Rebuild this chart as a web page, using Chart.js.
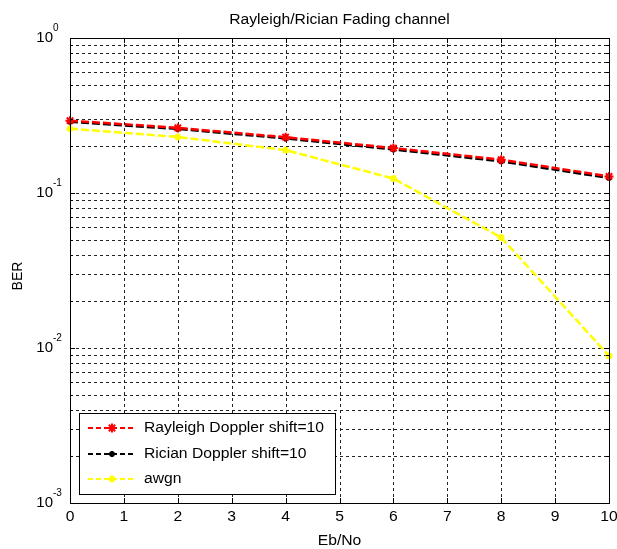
<!DOCTYPE html>
<html>
<head>
<meta charset="utf-8">
<script src="https://cdn.jsdelivr.net/npm/chart.js@4.4.1/dist/chart.umd.min.js"></script>
<style>
  html, body { margin: 0; padding: 0; background: #fff; }
  canvas { display: block; }
</style>
</head>
<body>
<canvas id="chart" width="617" height="549"></canvas>
<script>
// values
const ebNo = [0, 2, 4, 6, 8, 10];
const rayleigh = [0.293, 0.263, 0.229, 0.195, 0.164, 0.128];
const rician = [0.288, 0.259, 0.225, 0.191, 0.160, 0.125];
const awgn = [0.26, 0.23, 0.189, 0.124, 0.0516, 0.0089];

const xTickLabels = ["0", "1", "2", "3", "4", "5", "6", "7", "8", "9", "10"];
const yDecades = [1, 0.1, 0.01, 0.001];
const yExponents = ["0", "-1", "-2", "-3"];
const seriesNames = ["Rayleigh Doppler shift=10", "Rician Doppler shift=10", "awgn"];

const chartTitle = "Rayleigh/Rician Fading channel";
const xTitle = "Eb/No";
const yTitle = "BER";

const FONT = '"Liberation Sans", Arial, sans-serif';
const SX = 1.12; // the reference text is a little wide

function toPoints(ys) {
    return ebNo.map((x, i) => ({ x, y: ys[i] }));
}

function putText(ctx, str, x, y, align, size, sx) {
    ctx.save();
    ctx.font = size + "px " + FONT;
    ctx.textAlign = align;
    ctx.textBaseline = "middle";
    ctx.fillStyle = "#000";
    ctx.translate(x, y);
    ctx.scale(sx, 1);
    ctx.fillText(str, 0, 0);
    ctx.restore();
}

// minor log grid values between decades
const yGrid = [];
yDecades.slice(1).forEach((d) => {
    for (let m = 1; m < 10; m++) yGrid.push(d * m);
});
yGrid.push(1);

const matlabAxes = {
    id: "matlabAxes",
    beforeDatasetsDraw(chart) {
        const { ctx, chartArea: a, scales } = chart;
        ctx.save();
        ctx.strokeStyle = "#222";
        ctx.lineWidth = 1;
        ctx.setLineDash([3, 3]);
        ctx.beginPath();
        xTickLabels.forEach((t) => {
            const px = Math.round(scales.x.getPixelForValue(+t)) + 0.5;
            ctx.moveTo(px, a.top);
            ctx.lineTo(px, a.bottom);
        });
        yGrid.forEach((v) => {
            const py = Math.round(scales.y.getPixelForValue(v)) + 0.5;
            ctx.moveTo(a.left, py);
            ctx.lineTo(a.right, py);
        });
        ctx.stroke();
        ctx.restore();
    },
    afterDraw(chart) {
        const { ctx, chartArea: a, scales } = chart;
        ctx.save();
        // box and tick marks
        ctx.strokeStyle = "#000";
        ctx.lineWidth = 1;
        ctx.setLineDash([]);
        ctx.strokeRect(a.left + 0.5, a.top + 0.5, a.right - a.left, a.bottom - a.top);
        ctx.beginPath();
        xTickLabels.forEach((t) => {
            const px = Math.round(scales.x.getPixelForValue(+t)) + 0.5;
            ctx.moveTo(px, a.bottom); ctx.lineTo(px, a.bottom - 5);
            ctx.moveTo(px, a.top); ctx.lineTo(px, a.top + 5);
        });
        yGrid.forEach((v) => {
            const py = Math.round(scales.y.getPixelForValue(v)) + 0.5;
            const len = yDecades.includes(v) ? 5 : 3;
            ctx.moveTo(a.left, py); ctx.lineTo(a.left + len, py);
            ctx.moveTo(a.right, py); ctx.lineTo(a.right - len, py);
        });
        ctx.stroke();

        // tick labels
        xTickLabels.forEach((t) => {
            putText(ctx, t, scales.x.getPixelForValue(+t), a.bottom + 14, "center", 14, SX);
        });
        yDecades.forEach((v, i) => {
            const py = scales.y.getPixelForValue(v);
            putText(ctx, "10", a.left - 17, py, "right", 15, 1.0);
            putText(ctx, yExponents[i], a.left - 17, py - 10, "left", 10, 1.0);
        });

        // titles
        putText(ctx, chartTitle, (a.left + a.right) / 2, 20, "center", 14, SX);
        putText(ctx, xTitle, (a.left + a.right) / 2, 541, "center", 14, SX);
        ctx.save();
        ctx.translate(18, 276);
        ctx.rotate(-Math.PI / 2);
        putText(ctx, yTitle, 0, 0, "center", 14, 1);
        ctx.restore();

        // legend box
        const lx = 79, ly = 413, lw = 256, lh = 81;
        ctx.fillStyle = "#fff";
        ctx.fillRect(lx, ly, lw, lh);
        ctx.strokeStyle = "#000";
        ctx.lineWidth = 1;
        ctx.strokeRect(lx + 0.5, ly + 0.5, lw, lh);
        const rows = [428, 454, 479];
        chart.data.datasets.forEach((ds, i) => {
            const y = rows[i];
            ctx.strokeStyle = ds.borderColor;
            ctx.fillStyle = ds.borderColor;
            ctx.lineWidth = 2;
            ctx.setLineDash([5, 3]);
            ctx.beginPath();
            ctx.moveTo(88, y);
            ctx.lineTo(136, y);
            ctx.stroke();
            ctx.setLineDash([]);
            ctx.lineWidth = ds.pointBorderWidth;
            Chart.helpers.drawPoint(ctx, {
                pointStyle: ds.pointStyle,
                radius: ds.pointRadius,
                borderWidth: ds.pointBorderWidth,
                rotation: 0
            }, 112, y);
            putText(ctx, seriesNames[i], 144, y, "left", 14, SX);
        });
        ctx.restore();
    }
};

function series(label, ys, color, radius) {
    return {
        label,
        data: toPoints(ys),
        borderColor: color,
        backgroundColor: color,
        borderWidth: 2.5,
        borderDash: [8, 3],
        pointStyle: "star",
        pointRadius: radius,
        pointBorderWidth: 2,
        pointBorderColor: color,
        pointBackgroundColor: color,
        tension: 0,
        clip: false
    };
}

new Chart(document.getElementById("chart"), {
    type: "line",
    data: {
        datasets: [
            series(seriesNames[0], rayleigh, "#ff0000", 4.5),
            series(seriesNames[1], rician, "#000000", 3),
            series(seriesNames[2], awgn, "#ffff00", 3.5)
        ]
    },
    options: {
        responsive: false,
        animation: false,
        layout: { padding: { left: 70, top: 38, right: 8, bottom: 46 } },
        plugins: {
            legend: { display: false },
            title: { display: false },
            tooltip: { enabled: false }
        },
        scales: {
            x: { type: "linear", min: 0, max: 10, display: false },
            y: { type: "logarithmic", min: 0.001, max: 1, display: false }
        }
    },
    plugins: [matlabAxes]
});
</script>
</body>
</html>
